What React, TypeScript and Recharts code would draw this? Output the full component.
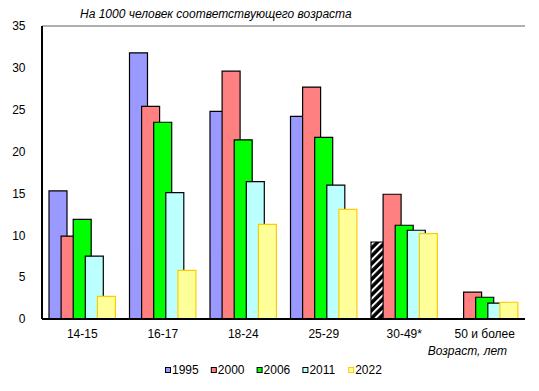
import React from 'react';
import { BarChart, Bar, XAxis, YAxis, CartesianGrid, ReferenceLine, Legend, Cell } from 'recharts';

const categories = ['14-15', '16-17', '18-24', '25-29', '30-49*', '50 и более'];
const s1995: (number | null)[] = [15.3, 31.8, 24.8, 24.2, 9.2, null];
const s2000 = [9.9, 25.4, 29.6, 27.7, 14.9, 3.2];
const s2006 = [11.9, 23.5, 21.4, 21.7, 11.2, 2.6];
const s2011 = [7.5, 15.1, 16.4, 16.0, 10.6, 1.9];
const s2022 = [2.7, 5.8, 11.3, 13.1, 10.2, 2.0];
const yTicks = [0, 5, 10, 15, 20, 25, 30, 35];
const title = 'На 1000 человек соответствующего возраста';
const xTitle = 'Возраст, лет';

const series = [
  { key: 'y1995', name: '1995', fill: '#9999FF', stroke: '#000000' },
  { key: 'y2000', name: '2000', fill: '#FF8080', stroke: '#000000' },
  { key: 'y2006', name: '2006', fill: '#00FF00', stroke: '#000000' },
  { key: 'y2011', name: '2011', fill: '#BBFFFF', stroke: '#000000' },
  { key: 'y2022', name: '2022', fill: '#FFFF99', stroke: '#FFCC00' },
];

const data = categories.map((c, i) => ({
  cat: c,
  y1995: s1995[i],
  y2000: s2000[i],
  y2006: s2006[i],
  y2011: s2011[i],
  y2022: s2022[i],
}));

const FONT = '"Liberation Sans", Arial, sans-serif';

const XTick = (props: any) => {
  const { x, y, payload } = props;
  return (
    <text x={x} y={y + 19} textAnchor="middle" fontFamily={FONT} fontSize={12} fill="#000">
      {payload.value}
    </text>
  );
};

const YTick = (props: any) => {
  const { x, y, payload } = props;
  return (
    <text x={x - 16.5} y={y + 4.3} textAnchor="end" fontFamily={FONT} fontSize={12} fill="#000">
      {payload.value}
    </text>
  );
};

const LegendContent = () => {
  const startX = 165;
  const step = 45.8;
  return (
    <svg width={539} height={20} style={{ display: 'block' }}>
      {series.map((s, i) => (
        <g key={s.key}>
          <rect x={startX + i * step + 0.5} y={7.5} width={5} height={5} fill={s.fill} stroke={s.stroke} strokeWidth={1} />
          <text x={startX + i * step + 7} y={13.6} fontFamily={FONT} fontSize={12} fill="#000">
            {s.name}
          </text>
        </g>
      ))}
    </svg>
  );
};

export default function App() {
  return (
    <div style={{ position: 'absolute', left: 0, top: 0, width: 539, height: 391, background: '#fff' }}>
      <BarChart
        width={539}
        height={391}
        data={data}
        margin={{ top: 26, right: 14, left: 0, bottom: 0 }}
        barSize={18}
        barGap={-5.9}
      >
        <defs>
          <pattern id="hatch" patternUnits="userSpaceOnUse" width={5.5} height={5.5} patternTransform="rotate(45)">
            <rect x={0} y={0} width={5.5} height={5.5} fill="#000" />
            <rect x={0} y={0} width={2} height={5.5} fill="#fff" />
          </pattern>
        </defs>
        <CartesianGrid vertical={false} stroke="#C0C0C0" strokeWidth={1} />
        <XAxis
          dataKey="cat"
          height={72}
          tickSize={0}
          tickMargin={0}
          tickLine={false}
          tick={<XTick />}
          axisLine={{ stroke: '#000', strokeWidth: 2 }}
          interval={0}
        />
        <YAxis
          yAxisId="left"
          width={42}
          domain={[0, 35]}
          ticks={yTicks}
          tickSize={0}
          tickMargin={0}
          tickLine={false}
          tick={<YTick />}
          axisLine={{ stroke: '#000', strokeWidth: 2 }}
          allowDataOverflow
        />
        <YAxis
          yAxisId="right"
          orientation="right"
          width={0}
          domain={[0, 35]}
          tick={false}
          tickLine={false}
          axisLine={{ stroke: '#808080', strokeWidth: 1 }}
        />
        <ReferenceLine yAxisId="left" y={35} stroke="#808080" strokeWidth={1} />
        {series.map((s) => (
          <Bar
            key={s.key}
            yAxisId="left"
            dataKey={s.key}
            name={s.name}
            fill={s.fill}
            stroke={s.stroke}
            strokeWidth={1.2}
            isAnimationActive={false}
          >
            {s.key === 'y1995'
              ? data.map((d, i) => (
                  <Cell key={i} fill={d.cat === '30-49*' ? 'url(#hatch)' : s.fill} />
                ))
              : null}
          </Bar>
        ))}
        <Legend
          layout="horizontal"
          verticalAlign="middle"
          align="center"
          content={<LegendContent />}
          wrapperStyle={{ top: 360, left: 0, width: 539, height: 20 }}
        />
      </BarChart>
      <svg width={539} height={391} style={{ position: 'absolute', left: 0, top: 0, pointerEvents: 'none' }}>
        <text x={80} y={18} fontFamily={FONT} fontSize={12} fontStyle="italic" fill="#000">
          {title}
        </text>
        <text x={507} y={355} textAnchor="end" fontFamily={FONT} fontSize={12} fontStyle="italic" fill="#000">
          {xTitle}
        </text>
      </svg>
    </div>
  );
}
